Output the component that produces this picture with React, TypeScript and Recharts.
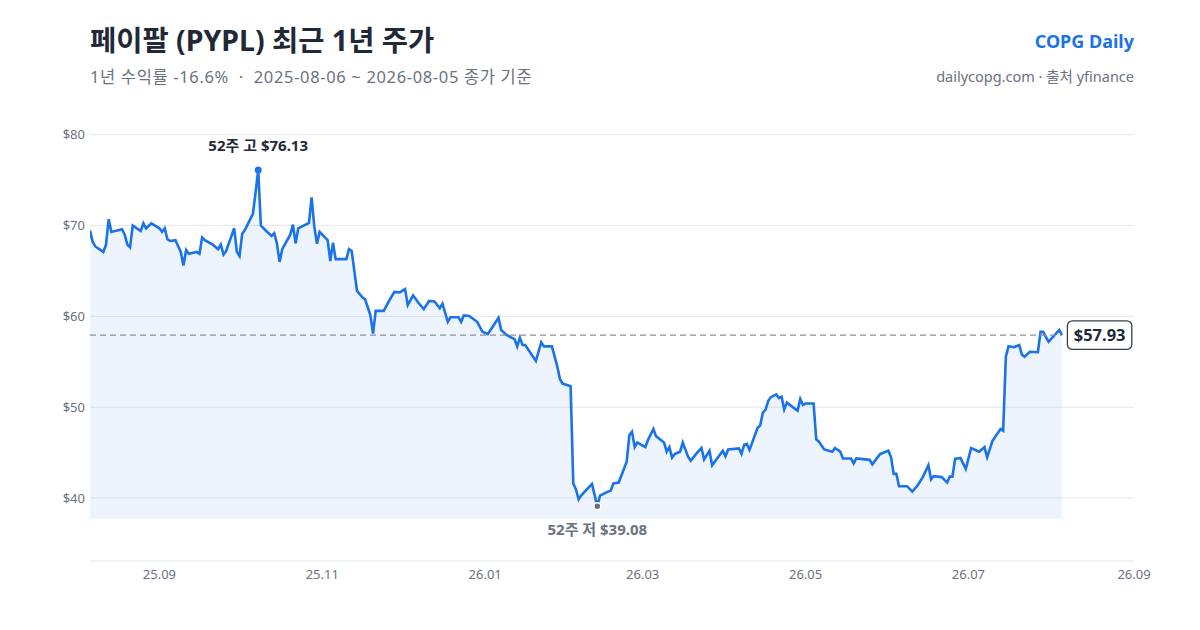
import React from 'react';
import { ComposedChart, Area, XAxis, YAxis, CartesianGrid, ReferenceLine, ReferenceDot } from 'recharts';

const dates: string[] = [
  '2025-08-06','2025-08-07','2025-08-08','2025-08-11','2025-08-12','2025-08-13','2025-08-14','2025-08-18','2025-08-19','2025-08-20',
  '2025-08-21','2025-08-22','2025-08-23','2025-08-25','2025-08-26','2025-08-27','2025-08-29','2025-09-01','2025-09-02','2025-09-03',
  '2025-09-04','2025-09-05','2025-09-07','2025-09-09','2025-09-10','2025-09-11','2025-09-12','2025-09-15','2025-09-16','2025-09-17',
  '2025-09-18','2025-09-21','2025-09-23','2025-09-24','2025-09-25','2025-09-26','2025-09-29','2025-09-30','2025-10-01','2025-10-02',
  '2025-10-03','2025-10-06','2025-10-07','2025-10-08','2025-10-09','2025-10-11','2025-10-13','2025-10-14','2025-10-15','2025-10-16',
  '2025-10-17','2025-10-20','2025-10-21','2025-10-22','2025-10-23','2025-10-27','2025-10-28','2025-10-29','2025-10-30','2025-10-31',
  '2025-11-03','2025-11-04','2025-11-05','2025-11-06','2025-11-10','2025-11-11','2025-11-12','2025-11-14','2025-11-16','2025-11-17',
  '2025-11-19','2025-11-20','2025-11-21','2025-11-24','2025-11-26','2025-11-28','2025-11-30','2025-12-02','2025-12-03','2025-12-05',
  '2025-12-07','2025-12-09','2025-12-11','2025-12-13','2025-12-15','2025-12-16','2025-12-18','2025-12-19','2025-12-22','2025-12-23',
  '2025-12-24','2025-12-26','2025-12-29','2025-12-31','2026-01-02','2026-01-06','2026-01-07','2026-01-09','2026-01-12','2026-01-13',
  '2026-01-14','2026-01-15','2026-01-16','2026-01-20','2026-01-22','2026-01-23','2026-01-26','2026-01-28','2026-01-29','2026-01-30',
  '2026-02-02','2026-02-03','2026-02-04','2026-02-05','2026-02-06','2026-02-10','2026-02-12','2026-02-13','2026-02-16','2026-02-17',
  '2026-02-18','2026-02-20','2026-02-23','2026-02-24','2026-02-25','2026-02-26','2026-02-27','2026-03-02','2026-03-03','2026-03-05',
  '2026-03-06','2026-03-09','2026-03-10','2026-03-11','2026-03-12','2026-03-13','2026-03-15','2026-03-16','2026-03-18','2026-03-19',
  '2026-03-21','2026-03-23','2026-03-24','2026-03-26','2026-03-27','2026-03-31','2026-04-01','2026-04-02','2026-04-06','2026-04-07',
  '2026-04-08','2026-04-09','2026-04-10','2026-04-13','2026-04-14','2026-04-15','2026-04-16','2026-04-17','2026-04-18','2026-04-20',
  '2026-04-21','2026-04-22','2026-04-23','2026-04-24','2026-04-28','2026-04-29','2026-04-30','2026-05-01','2026-05-04','2026-05-05',
  '2026-05-06','2026-05-08','2026-05-11','2026-05-12','2026-05-14','2026-05-15','2026-05-18','2026-05-19','2026-05-20','2026-05-25',
  '2026-05-26','2026-05-28','2026-05-29','2026-06-01','2026-06-02','2026-06-03','2026-06-04','2026-06-05','2026-06-08','2026-06-10',
  '2026-06-12','2026-06-14','2026-06-16','2026-06-17','2026-06-18','2026-06-21','2026-06-23','2026-06-24','2026-06-25','2026-06-26',
  '2026-06-28','2026-06-30','2026-07-02','2026-07-05','2026-07-07','2026-07-08','2026-07-10','2026-07-13','2026-07-14','2026-07-15',
  '2026-07-16','2026-07-18','2026-07-20','2026-07-21','2026-07-22','2026-07-24','2026-07-27','2026-07-28','2026-07-29','2026-07-31',
  '2026-08-02','2026-08-04','2026-08-05',
];

const closes: number[] = [
  69.46, 68.2, 67.7, 67.1, 67.9, 70.7, 69.3, 69.6, 69.0, 67.9,
  67.6, 70.0, 69.8, 69.4, 70.25, 69.7, 70.25, 69.7, 69.3, 69.7,
  68.5, 68.3, 68.4, 67.1, 65.6, 67.3, 66.9, 67.1, 66.9, 68.7,
  68.4, 67.9, 67.4, 67.9, 66.8, 67.2, 69.7, 67.1, 66.65, 69.1,
  69.5, 71.3, 73.6, 76.13, 70.0, 69.4, 68.85, 69.15, 68.05, 66.0,
  67.4, 69.0, 70.1, 68.05, 69.7, 70.3, 73.1, 69.9, 68.0, 69.3,
  68.4, 66.1, 68.1, 66.3, 66.3, 67.4, 67.2, 62.8, 62.1, 61.9,
  60.15, 58.1, 60.6, 60.6, 61.7, 62.7, 62.65, 63.0, 61.25, 62.3,
  61.5, 60.8, 61.7, 61.65, 60.9, 61.4, 59.4, 59.9, 59.9, 59.4,
  60.1, 60.05, 59.4, 58.3, 58.05, 59.85, 58.5, 57.95, 57.5, 56.7,
  57.65, 56.85, 56.85, 55.1, 57.15, 56.7, 56.7, 54.5, 53.1, 52.6,
  52.3, 41.6, 40.95, 39.85, 40.3, 41.55, 39.08, 40.25, 40.7, 40.8,
  41.6, 41.7, 44.0, 46.9, 47.3, 45.6, 46.1, 45.6, 46.4, 47.6,
  46.8, 46.1, 45.1, 45.6, 44.45, 44.85, 45.1, 46.1, 44.55, 44.1,
  44.85, 45.5, 44.25, 45.2, 43.6, 45.2, 44.6, 45.35, 45.45, 44.85,
  45.85, 45.95, 45.3, 47.7, 48.0, 49.4, 49.7, 50.7, 51.1, 51.4,
  51.0, 51.15, 49.75, 50.5, 49.6, 50.9, 50.25, 50.4, 50.4, 46.45,
  46.2, 45.35, 45.1, 45.5, 45.1, 44.35, 44.35, 43.8, 44.35, 44.2,
  43.7, 44.5, 44.85, 45.2, 44.5, 42.65, 42.65, 41.3, 41.3, 40.7,
  41.4, 42.35, 43.6, 42.05, 42.4, 42.3, 41.7, 42.35, 42.35, 44.3,
  44.4, 43.2, 45.5, 45.1, 45.6, 44.5, 46.3, 47.6, 47.4, 55.55,
  56.7, 56.6, 56.85, 55.8, 55.55, 56.1, 56.05, 58.3, 58.3, 57.2,
  57.85, 58.5, 57.93,
];

const yTicks: number[] = [40, 50, 60, 70, 80];
const xTickDates: string[] = ['2025-09-01', '2025-11-01', '2026-01-01', '2026-03-01', '2026-05-01', '2026-07-01', '2026-09-01'];
const xDomainDates: string[] = ['2025-08-06', '2026-09-01'];
const highDate = '2025-10-08';
const highValue = 76.13;
const lowDate = '2026-02-12';
const lowValue = 39.08;
const lastDate = '2026-08-05';
const lastValue = 57.93;

const BLUE = '#1a73e8';
const DARK = '#1f2937';
const GRAY = '#6b7280';
const GRID = '#e5e7eb';
const FONT = '"Noto Sans", "Noto Sans CJK KR", sans-serif';

const toT = (d: string) => Date.parse(d + 'T00:00:00Z');
const data = dates.map((d, i) => ({ t: toT(d), v: closes[i] }));
const xTicks = xTickDates.map(toT);
const xDomain = xDomainDates.map(toT);
const areaBase = lowValue * 0.965;

const fmtX = (t: number) => {
  const d = new Date(t);
  return `${String(d.getUTCFullYear()).slice(2)}.${String(d.getUTCMonth() + 1).padStart(2, '0')}`;
};

const HighShape = (p: any) => (
  <g>
    <circle cx={p.cx} cy={p.cy} r={3.5} fill={BLUE} />
    <text x={p.cx} y={p.cy - 18.5} textAnchor="middle" fontSize={15} fontWeight={700} fill={DARK} fontFamily={FONT}>
      {`52주 고 $${highValue.toFixed(2)}`}
    </text>
  </g>
);

const LowShape = (p: any) => (
  <g>
    <circle cx={p.cx} cy={p.cy} r={3.5} fill={GRAY} stroke="#ffffff" strokeWidth={1.5} />
    <text x={p.cx} y={p.cy + 28.5} textAnchor="middle" fontSize={15} fontWeight={700} fill={GRAY} fontFamily={FONT}>
      {`52주 저 $${lowValue.toFixed(2)}`}
    </text>
  </g>
);

const LastShape = (p: any) => (
  <g>
    <rect x={p.cx + 5.5} y={p.cy - 14.3} width={64.4} height={28.6} rx={5} ry={5} fill="#ffffff" stroke="#374151" strokeWidth={1.3} />
    <text x={p.cx + 37.7} y={p.cy + 6} textAnchor="middle" fontSize={16.5} fontWeight={700} fill={DARK} fontFamily={FONT}>
      {`$${lastValue.toFixed(2)}`}
    </text>
  </g>
);

export default function App() {
  return (
    <div style={{ position: 'absolute', left: 0, top: 0, width: 1200, height: 630, background: '#ffffff', fontFamily: FONT }}>
      <ComposedChart
        width={1200}
        height={630}
        data={data}
        margin={{ top: 116.6, right: 66, bottom: 39, left: 0 }}
      >
        <CartesianGrid horizontal vertical={false} horizontalValues={yTicks} stroke={GRID} strokeWidth={1} />
        <XAxis
          dataKey="t"
          type="number"
          scale="time"
          domain={xDomain}
          ticks={xTicks}
          tickFormatter={fmtX}
          allowDataOverflow
          height={30}
          axisLine={{ stroke: GRID }}
          tickLine={false}
          tick={{ fill: GRAY, fontSize: 13, fontFamily: FONT }}
          tickMargin={3}
        />
        <YAxis
          type="number"
          domain={[33.06, 82]}
          ticks={yTicks}
          allowDataOverflow
          width={90}
          axisLine={false}
          tickLine={false}
          tickSize={0}
          tickMargin={5}
          tickFormatter={(v: number) => `$${v}`}
          tick={{ fill: GRAY, fontSize: 13, fontFamily: FONT }}
        />
        <Area
          type="linear"
          dataKey="v"
          baseValue={areaBase}
          stroke="none"
          fill={BLUE}
          fillOpacity={0.08}
          isAnimationActive={false}
          dot={false}
          activeDot={false}
        />
        <ReferenceLine
          segment={[{ x: xDomain[0], y: lastValue }, { x: toT(lastDate), y: lastValue }]}
          stroke="#8b9099"
          strokeWidth={1.2}
          strokeDasharray="6 4"
        />
        <Area
          type="linear"
          dataKey="v"
          baseValue={areaBase}
          stroke={BLUE}
          strokeWidth={2.6}
          fill="none"
          isAnimationActive={false}
          dot={false}
          activeDot={false}
        />
        <ReferenceDot x={toT(highDate)} y={highValue} r={3.5} shape={HighShape} />
        <ReferenceDot x={toT(lowDate)} y={lowValue} r={3.5} shape={LowShape} />
        <ReferenceDot x={toT(lastDate)} y={lastValue} r={0} shape={LastShape} />
      </ComposedChart>
      <svg width={1200} height={630} style={{ position: 'absolute', left: 0, top: 0, pointerEvents: 'none' }}>
        <text x={90} y={50.5} fontSize={28.5} fontWeight={700} fill={DARK} fontFamily={FONT}>
          페이팔 (PYPL) 최근 1년 주가
        </text>
        <text x={90} y={83} fontSize={16.5} letterSpacing={0.65} fill={GRAY} fontFamily={FONT} style={{ whiteSpace: 'pre' }}>
          {'1년 수익률 -16.6%  ·  2025-08-06 ~ 2026-08-05 종가 기준'}
        </text>
        <text x={1134} y={47.5} fontSize={18} fontWeight={700} fill={BLUE} fontFamily={FONT} textAnchor="end">
          COPG Daily
        </text>
        <text x={1134} y={82} fontSize={14.5} fill={GRAY} fontFamily={FONT} textAnchor="end">
          dailycopg.com · 출처 yfinance
        </text>
      </svg>
    </div>
  );
}
